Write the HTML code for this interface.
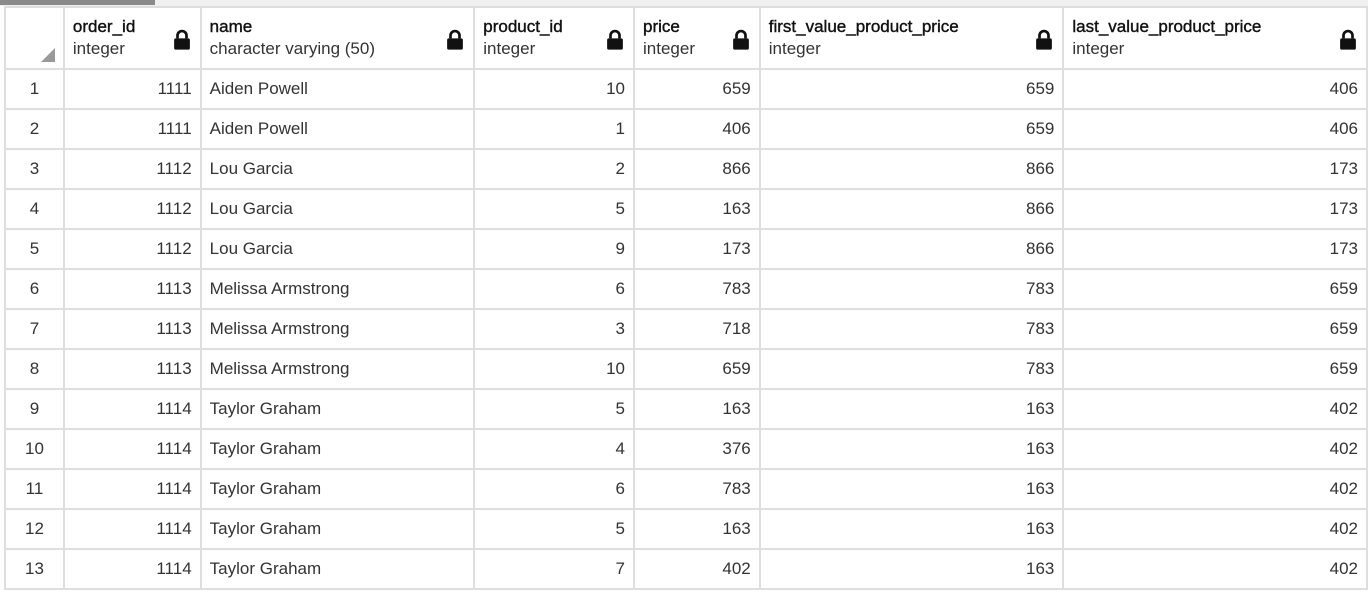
<!DOCTYPE html>
<html><head><meta charset="utf-8"><style>
body{margin:0;width:1368px;height:592px;background:#fff;overflow:hidden;font-family:"Liberation Sans",sans-serif;color:#222;position:relative}
#tab{position:absolute;left:0;top:0;width:155px;height:5px;background:#8a8a8a}
#topbar{position:absolute;left:0;top:0;width:1368px;height:6px;background:#f0f0f0}
table{position:absolute;left:4px;top:6px;border-collapse:collapse;table-layout:fixed}
td,th{border:2px solid #dedede;padding:0 8px;font-size:17px;white-space:nowrap;overflow:hidden}
th{height:60px;text-align:left;font-weight:normal;vertical-align:middle;position:relative;line-height:22px}
th .n{font-weight:normal;color:#111;font-size:17px;-webkit-text-stroke:0.4px #111}
th .t{color:#333}
.lock{position:absolute;right:9px;top:21px;width:18px;height:21px}
td{height:38px;text-align:right;color:#333}
td.l{text-align:left}
td.r{text-align:center}
.corner{position:absolute;right:8px;bottom:6px;width:0;height:0;border-left:14px solid transparent;border-bottom:14px solid #999}
</style></head><body>
<div id="topbar"></div>
<div id="tab"></div>
<table>
<colgroup><col style="width:59px"><col style="width:137px"><col style="width:274px"><col style="width:160px"><col style="width:126px"><col style="width:304px"><col style="width:304px"></colgroup>
<thead><tr id="hr">
<th><div class="corner"></div></th>
</tr></thead>
<tbody id="tb"></tbody>
</table>
<script>
const columns=["order_id","name","product_id","price","first_value_product_price","last_value_product_price"];
const types=["integer","character varying (50)","integer","integer","integer","integer"];
const orderIds=[1111,1111,1112,1112,1112,1113,1113,1113,1114,1114,1114,1114,1114];
const names=["Aiden Powell","Aiden Powell","Lou Garcia","Lou Garcia","Lou Garcia","Melissa Armstrong","Melissa Armstrong","Melissa Armstrong","Taylor Graham","Taylor Graham","Taylor Graham","Taylor Graham","Taylor Graham"];
const productIds=[10,1,2,5,9,6,3,10,5,4,6,5,7];
const prices=[659,406,866,163,173,783,718,659,163,376,783,163,402];
const firstVals=[659,659,866,866,866,783,783,783,163,163,163,163,163];
const lastVals=[406,406,173,173,173,659,659,659,402,402,402,402,402];
const lockSvg='<svg class="lock" viewBox="0 0 16 18"><path d="M4 8V5.5a4 4 0 0 1 8 0V8" fill="none" stroke="#111" stroke-width="2.4"/><rect x="1" y="8" width="14" height="10" rx="1.5" fill="#111"/></svg>';
const hr=document.getElementById('hr');
columns.forEach((c,i)=>{
 const th=document.createElement('th');
 
 
 th.innerHTML='<div class="n">'+c+'</div><div class="t">'+types[i]+'</div>'+lockSvg;
 hr.appendChild(th);
});
const tb=document.getElementById('tb');
orderIds.forEach((o,i)=>{
 const tr=document.createElement('tr');
 
 
 const vals=[i+1,o,names[i],productIds[i],prices[i],firstVals[i],lastVals[i]];
 const cls=['r','','l','','','',''];
 const nm=['row-number','order-id-cell','name-cell','product-id-cell','price-cell','first-value-cell','last-value-cell'];
 vals.forEach((v,j)=>{
  const td=document.createElement('td');
  
  
  if(cls[j])td.className=cls[j];
  td.textContent=v;
  tr.appendChild(td);
 });
 tb.appendChild(tr);
});
</script>
</body></html>
